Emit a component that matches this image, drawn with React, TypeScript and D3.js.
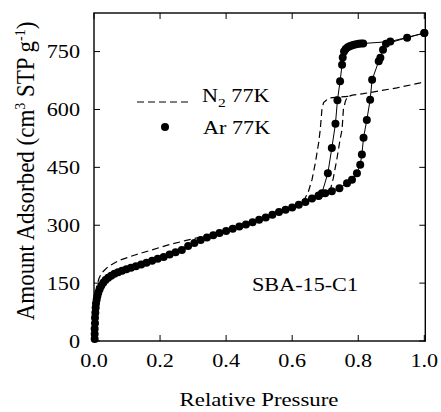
import React from "react";
import * as d3 from "d3";

// Ar 77K adsorption branch (relative pressure, amount adsorbed)
const arAdsP = [0.002,0.002,0.002,0.003,0.003,0.004,0.005,0.006,0.008,0.010,0.013,0.017,0.022,0.028,0.035,0.043,0.052,0.062,0.073,0.085,0.098,0.112,0.127,0.143,0.159,0.176,0.193,0.211,0.229,0.247,0.266,0.285,0.304,0.323,0.342,0.361,0.380,0.400,0.420,0.440,0.460,0.480,0.500,0.520,0.540,0.560,0.580,0.600,0.620,0.640,0.660,0.680,0.700,0.720,0.743,0.766,0.781,0.796,0.806,0.811,0.816,0.826,0.836,0.842,0.862,0.867,0.875,0.884,0.948,1.0];
const arAdsV = [5,18,32,46,60,73,86,97,107,116,125,134,143,151,158,164,169,174,178,182,186,190,194,198,203,208,213,218,224,230,236,246,254,262,268,274,280,285,291,297,302,308,314,320,327,334,340,346,353,360,369,377,383,388,396,409,418,435,457,483,527,573,625,677,725,734,755,770,786,798];

// Ar 77K desorption branch
const arDesP = [1.0,0.897,0.815,0.808,0.801,0.794,0.787,0.780,0.774,0.768,0.762,0.757,0.753,0.751,0.745,0.737,0.731,0.720,0.708,0.690,0.680];
const arDesV = [798,776,771,771,770,769,768,766,764,761,757,750,735,716,673,624,563,500,435,383,376];

// N2 77K adsorption branch
const n2AdsP = [0.001,0.003,0.008,0.015,0.023,0.043,0.074,0.124,0.175,0.225,0.276,0.300,0.350,0.400,0.500,0.600,0.650,0.690,0.715,0.724,0.735,0.745,0.751,0.755,0.761,0.767,0.782,0.815,0.917,0.988,0.998];
const n2AdsV = [40,100,141,162,176,193,208,223,236,249,260,265,274,286,314,346,364,378,390,420,470,522,548,600,621,633,637,641,656,669,673];

// N2 77K desorption branch
const n2DesP = [0.770,0.740,0.715,0.705,0.695,0.690,0.685,0.680,0.670,0.660,0.649,0.639,0.620];
const n2DesV = [634,632,630,625,618,600,548,513,461,418,387,370,355];

const xTicks = [0, 0.2, 0.4, 0.6, 0.8, 1.0];
const yTicks = [0, 150, 300, 450, 600, 750];

const FONT = "Liberation Serif, Times New Roman, Times, serif";
const SX = 1.2;

function T({ x, y, anchor = "start", size = 18.5, children }: any) {
  return (
    <text
      transform={`translate(${x},${y}) scale(${SX},1)`}
      textAnchor={anchor}
      fill="#000"
      style={{ fontFamily: FONT, fontSize: size }}
    >
      {children}
    </text>
  );
}

export default function App() {
  const W = 441, H = 412;
  const x = d3.scaleLinear().domain([0, 1.003]).range([94, 425.3]);
  const y = d3.scaleLinear().domain([0, 850]).range([341, 13]);

  const pts = (P: number[], V: number[]) => P.map((p, i) => [p, V[i]] as [number, number]);
  const line = d3.line<[number, number]>().x((d) => x(d[0])).y((d) => y(d[1]));

  const arAds = pts(arAdsP, arAdsV);
  const arDes = pts(arDesP, arDesV);
  const n2Ads = pts(n2AdsP, n2AdsV);
  const n2Des = pts(n2DesP, n2DesV);

  const [x0, x1] = x.range();
  const [y0, y1] = y.range();
  const tl = 6;

  return (
    <svg width={W} height={H} style={{ position: "absolute", left: 0, top: 0, background: "#fff" }}>
      <rect x={0} y={0} width={W} height={H} fill="#fff" />
      {/* N2 dashed */}
      <path d={line(n2Ads) || ""} fill="none" stroke="#000" strokeWidth={1.2} strokeDasharray="7,4" />
      <path d={line(n2Des) || ""} fill="none" stroke="#000" strokeWidth={1.2} strokeDasharray="7,4" />
      {/* Ar line + points */}
      <path d={line(arAds) || ""} fill="none" stroke="#000" strokeWidth={1} />
      <path d={line(arDes) || ""} fill="none" stroke="#000" strokeWidth={1} />
      {arAds.concat(arDes).map((d, i) => (
        <circle key={i} cx={x(d[0])} cy={y(d[1])} r={4} fill="#000" />
      ))}
      {/* frame */}
      <rect x={x0} y={y1} width={x1 - x0} height={y0 - y1} fill="none" stroke="#000" strokeWidth={1.4} />
      {xTicks.map((t) => (
        <g key={"x" + t}>
          <line x1={x(t)} x2={x(t)} y1={y0} y2={y0 - tl} stroke="#000" strokeWidth={1} />
          <line x1={x(t)} x2={x(t)} y1={y1} y2={y1 + tl} stroke="#000" strokeWidth={1} />
          <T x={x(t)} y={367} anchor="middle">{t.toFixed(1)}</T>
        </g>
      ))}
      {yTicks.map((t) => (
        <g key={"y" + t}>
          <line x1={x0} x2={x0 + tl} y1={y(t)} y2={y(t)} stroke="#000" strokeWidth={1} />
          <line x1={x1} x2={x1 - tl} y1={y(t)} y2={y(t)} stroke="#000" strokeWidth={1} />
          <T x={80} y={y(t) + 6.5} anchor="end">{String(t)}</T>
        </g>
      ))}
      <T x={259} y={406} anchor="middle" size={19}>Relative Pressure</T>
      <text
        transform={`translate(34,171) rotate(-90) scale(1,1.1)`}
        textAnchor="middle"
        style={{ fontFamily: FONT, fontSize: 23 }}
      >
        Amount Adsorbed (cm<tspan dy={-8} style={{ fontSize: 14 }}>3</tspan>
        <tspan dy={8}> STP g</tspan>
        <tspan dy={-8} style={{ fontSize: 14 }}>-1</tspan>
        <tspan dy={8}>)</tspan>
      </text>
      {/* legend */}
      <line x1={137} x2={190} y1={102} y2={102} stroke="#000" strokeWidth={1.2} strokeDasharray="7,4" />
      <T x={202} y={102}>
        N<tspan dy={5} style={{ fontSize: 13 }}>2</tspan><tspan dy={-5}> 77K</tspan>
      </T>
      <circle cx={165} cy={127} r={4} fill="#000" />
      <T x={203} y={134}>Ar 77K</T>
      <T x={252} y={291}>SBA-15-C1</T>
    </svg>
  );
}
